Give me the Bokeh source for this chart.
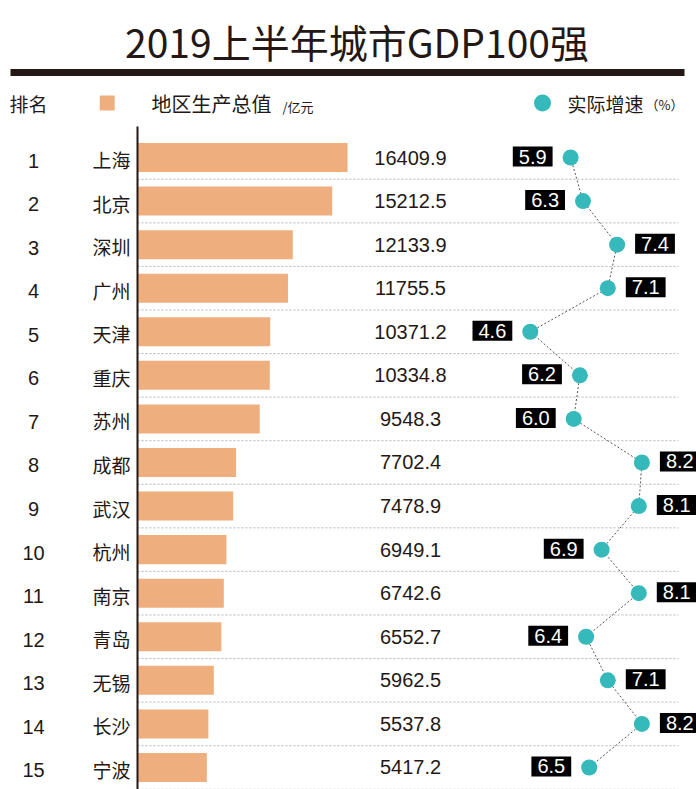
from bokeh.plotting import figure
from bokeh.models import ColumnDataSource, Range1d
from bokeh.core.properties import value
from bokeh.embed import file_html
from bokeh.resources import INLINE

# ---- data ----
ranks = list(range(1, 16))
cities = ["上海", "北京", "深圳", "广州", "天津", "重庆", "苏州", "成都",
          "武汉", "杭州", "南京", "青岛", "无锡", "长沙", "宁波"]
gdp = [16409.9, 15212.5, 12133.9, 11755.5, 10371.2, 10334.8, 9548.3, 7702.4,
       7478.9, 6949.1, 6742.6, 6552.7, 5962.5, 5537.8, 5417.2]
growth = [5.9, 6.3, 7.4, 7.1, 4.6, 6.2, 6.0, 8.2, 8.1, 6.9, 8.1, 6.4, 7.1, 8.2, 6.5]

title = "2019上半年城市GDP100强"
hdr_rank = "排名"
hdr_gdp = "地区生产总值"
hdr_gdp_unit = "/亿元"
hdr_growth = "实际增速"
hdr_growth_unit = "（%）"

# ---- layout constants (pixels inside figure) ----
W, H = 696, 789
BAR_X0 = 137.0        # pixel of GDP zero
GDP_PX = 0.0128       # pixels per GDP unit
ROW1_Y = 157.0        # pixel centre of row 1
ROW_H = 43.57         # row spacing in px
G_A, G_B = 387.2, 31.0  # growth scale: px = G_A + G_B * v

DARK = "#231815"
BAR = "#EFAE7E"
TEAL = "#36B9BA"
CJK = value("Noto Sans CJK SC")
LAT = value("Liberation Sans")


def gx(px):
    return (px - BAR_X0) / GDP_PX


def ry(py):
    return 1 + (py - ROW1_Y) / ROW_H


p = figure(width=W, height=H, output_backend="svg", toolbar_location=None,
           x_range=Range1d(gx(0), gx(W)), y_range=Range1d(ry(H), ry(0)),
           x_axis_type=None, y_axis_type=None, min_border=0,
           outline_line_color=None, background_fill_color="white",
           border_fill_color="white")
p.extra_x_ranges = {"g": Range1d((0 - G_A) / G_B, (W - G_A) / G_B)}

src = ColumnDataSource(dict(
    rank=ranks,
    rank_s=[str(r) for r in ranks],
    sep=[r + 0.5 for r in ranks],
    city=cities,
    gdp=gdp,
    gdp_s=[f"{v:.1f}" for v in gdp],
    growth=growth,
))

# title + rule
p.text(x=[gx(356.5)], y=[ry(40)], text=[title], text_align="center",
       text_baseline="middle", text_font=CJK, text_font_size="39px",
       text_color=DARK)
p.quad(left=[gx(10)], right=[gx(684)], top=[ry(68.5)], bottom=[ry(75.5)],
       fill_color=DARK, line_color=None)

# header
p.text(x=[gx(9)], y=[ry(102.5)], text=[hdr_rank], text_align="left",
       text_baseline="middle", text_font=CJK, text_font_size="19px",
       text_color=DARK)
p.scatter(x=[gx(106.7)], y=[ry(102.5)], marker="square", size=15,
          fill_color=BAR, line_color=None)
p.text(x=[gx(151)], y=[ry(102.5)], text=[hdr_gdp], text_align="left",
       text_baseline="middle", text_font=CJK, text_font_size="20px",
       text_color=DARK)
p.text(x=[gx(282)], y=[ry(105.5)], text=[hdr_gdp_unit], text_align="left",
       text_baseline="middle", text_font=CJK, text_font_size="13px",
       text_color=DARK)
p.scatter(x=[gx(542)], y=[ry(102.5)], marker="circle", size=17,
          fill_color=TEAL, line_color=None)
p.text(x=[gx(567)], y=[ry(102.5)], text=[hdr_growth], text_align="left",
       text_baseline="middle", text_font=CJK, text_font_size="19px",
       text_color=DARK)
p.text(x=[gx(645)], y=[ry(104)], text=[hdr_growth_unit], text_align="left",
       text_baseline="middle", text_font=CJK, text_font_size="13px",
       text_color=DARK)

# row separators
p.segment(x0=0, x1=gx(678), y0="sep", y1="sep", source=src,
          line_color="#b5b5b5", line_width=1, line_dash="2 2")

# bars
p.hbar(y="rank", left=0, right="gdp", height=0.666, source=src,
       fill_color=BAR, line_color=None)

# vertical axis line
p.segment(x0=[0], x1=[0], y0=[ry(126)], y1=[ry(800)], line_color=DARK,
          line_width=2)

# rank / city / value texts
p.text(x=gx(33), y="rank", text="rank_s", source=src, text_align="center",
       text_baseline="middle", y_offset=3, text_font=LAT,
       text_font_size="20px", text_color=DARK)
p.text(x=gx(130), y="rank", text="city", source=src, text_align="right",
       text_baseline="middle", y_offset=2, text_font=CJK,
       text_font_size="19px", text_color=DARK)
p.text(x=gx(410), y="rank", text="gdp_s", source=src, text_align="center",
       text_baseline="middle", y_offset=0, text_font=LAT,
       text_font_size="20px", text_color=DARK)

# growth line + dots
p.line(x="growth", y="rank", source=src, x_range_name="g",
       line_color="#555555", line_width=1, line_dash="2 2")
p.scatter(x="growth", y="rank", source=src, x_range_name="g", size=16,
          fill_color=TEAL, line_color=None)

# growth labels (right of dot when >= 7, else left)
right_idx = [i for i, v in enumerate(growth) if v >= 7]
left_idx = [i for i, v in enumerate(growth) if v < 7]
for idx, align, off in ((right_idx, "left", 18), (left_idx, "right", -18)):
    s = ColumnDataSource(dict(
        growth=[growth[i] for i in idx],
        rank=[ranks[i] for i in idx],
        lab=[f"{growth[i]:.1f}" for i in idx],
    ))
    p.text(x="growth", y="rank", text="lab", source=s, x_range_name="g",
           text_align=align, text_baseline="middle", x_offset=off,
           y_offset=-1, text_color="white", text_font=LAT,
           text_font_size="20px", background_fill_color="black",
           padding=dict(left=6, right=6, top=3, bottom=3))

open("out.html", "w").write(file_html(p, INLINE))
